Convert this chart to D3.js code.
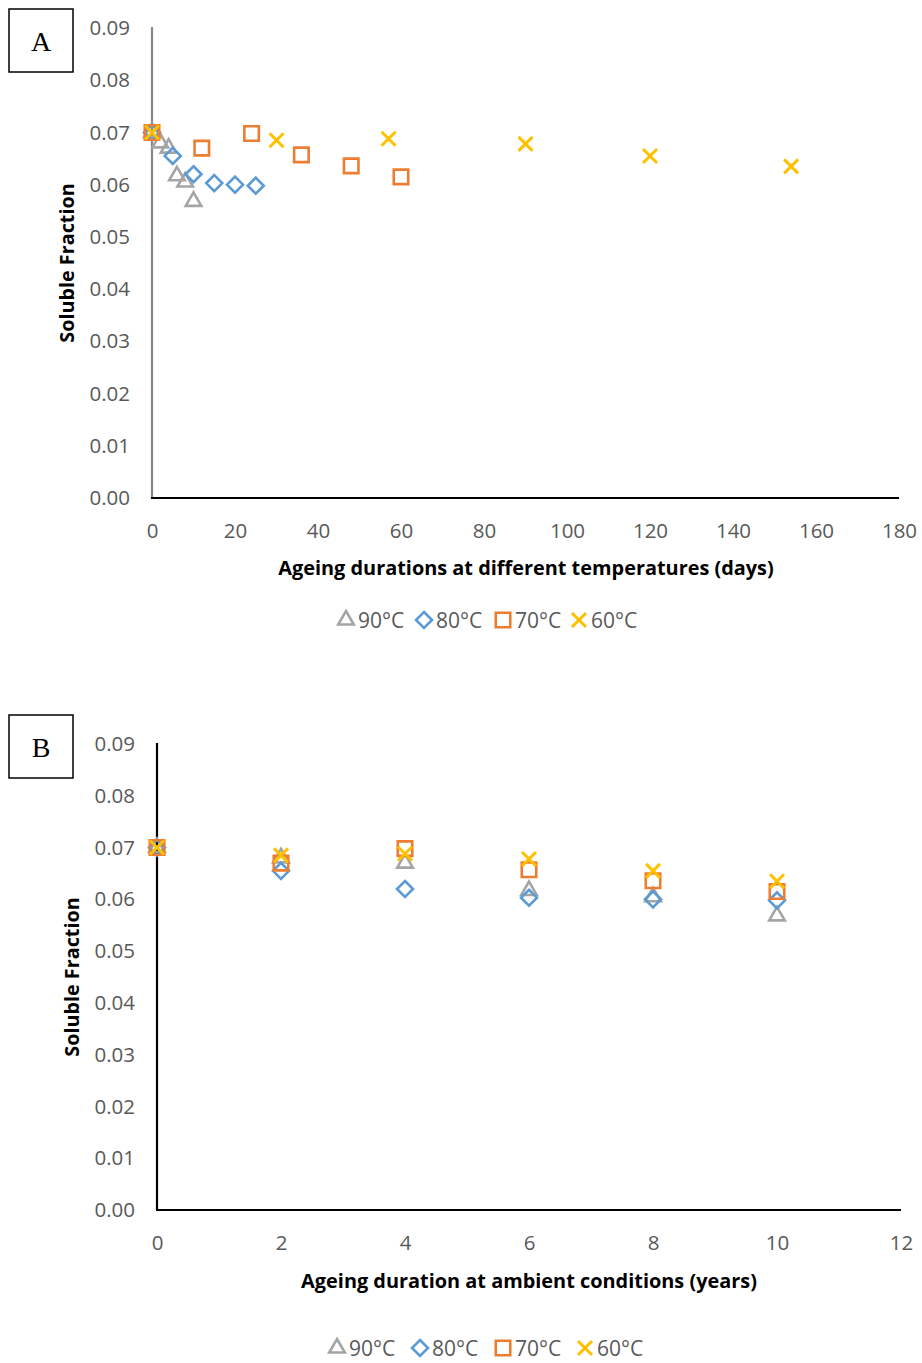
<!DOCTYPE html>
<html>
<head>
<meta charset="utf-8">
<script src="https://cdn.jsdelivr.net/npm/d3@7/dist/d3.min.js"></script>
<style>
  html, body { margin: 0; padding: 0; background: #fff; }
  svg { display: block; }
</style>
</head>
<body>
<svg id="chart" width="922" height="1363"></svg>
<script>
// Series: soluble fraction measured over six ageing steps at each temperature
const seriesNames = ["90°C", "80°C", "70°C", "60°C"];
const seriesColors = ["#A5A5A5", "#5B9BD5", "#ED7D31", "#FFC000"];
const seriesShapes = ["triangle", "diamond", "square", "cross"];

// Ageing durations (days) at each accelerated temperature
const days90 = [0, 2, 4, 6, 8, 10];
const days80 = [0, 5, 10, 15, 20, 25];
const days70 = [0, 12, 24, 36, 48, 60];
const days60 = [0, 30, 57, 90, 120, 154];

// Equivalent ageing durations at ambient conditions (years)
const years = [0, 2, 4, 6, 8, 10];

// Soluble fraction values
const frac90 = [0.0700, 0.0680, 0.0670, 0.0617, 0.0605, 0.0568];
const frac80 = [0.0700, 0.0655, 0.0620, 0.0603, 0.0600, 0.0598];
const frac70 = [0.0700, 0.0670, 0.0698, 0.0657, 0.0636, 0.0615];
const frac60 = [0.0700, 0.0685, 0.0688, 0.0678, 0.0655, 0.0635];

// Tick labels
const yTicks = [0, 0.01, 0.02, 0.03, 0.04, 0.05, 0.06, 0.07, 0.08, 0.09];
const xTicksDays = [0, 20, 40, 60, 80, 100, 120, 140, 160, 180];
const xTicksYears = [0, 2, 4, 6, 8, 10, 12];

const fracs = [frac90, frac80, frac70, frac60];

const svg = d3.select("#chart");
const tickFont = "'Open Sans', 'Liberation Sans', sans-serif";

function markerPath(shape) {
  if (shape === "triangle") return d3.symbol(d3.symbolTriangle, 105)();
  if (shape === "square") return d3.symbol(d3.symbolSquare, 210)();
  if (shape === "cross") return "M-7,-7L7,7M-7,7L7,-7";
  // diamond: a square turned by 45 degrees
  return "M0,-8L8,0L0,8L-8,0Z";
}

function drawMarker(g, shape, color, tx, ty) {
  g.append("path")
    .attr("d", markerPath(shape))
    .attr("transform", `translate(${tx},${ty})`)
    .attr("fill", "none")
    .attr("stroke", color)
    .attr("stroke-width", shape === "cross" ? 3 : 2.6)
    .attr("stroke-linejoin", "miter");
}

function drawPanel(cfg) {
  const g = svg.append("g");
  const x = d3.scaleLinear().domain(cfg.xDomain).range([cfg.left, cfg.right]);
  const y = d3.scaleLinear().domain([0, 0.09]).range([cfg.bottom, cfg.top]);

  // panel letter box
  g.append("rect")
    .attr("x", cfg.boxX).attr("y", cfg.boxY)
    .attr("width", 64).attr("height", 63)
    .attr("fill", "#fff").attr("stroke", "#000").attr("stroke-width", 1.5);
  g.append("text")
    .attr("x", cfg.boxX + 32).attr("y", cfg.boxY + 32)
    .attr("text-anchor", "middle").attr("dominant-baseline", "central")
    .attr("font-family", "'Liberation Serif', 'DejaVu Serif', serif")
    .attr("font-size", 28).attr("fill", "#000")
    .text(cfg.letter);

  // y axis ticks
  const yAxis = d3.axisLeft(y).tickValues(yTicks).tickFormat(d3.format(".2f")).tickSize(0).tickPadding(0);
  const ya = g.append("g").attr("transform", `translate(${cfg.yLabelRight},0)`).call(yAxis);
  ya.select(".domain").remove();
  ya.selectAll("text").attr("font-family", tickFont).attr("font-size", 20.5).attr("fill", "#595959");

  // x axis ticks
  const xAxis = d3.axisBottom(x).tickValues(cfg.xTicks).tickFormat(d3.format("d")).tickSize(0).tickPadding(0);
  const xa = g.append("g").attr("transform", `translate(0,${cfg.xLabelY})`).call(xAxis);
  xa.select(".domain").remove();
  xa.selectAll("text").attr("font-family", tickFont).attr("font-size", 20.5).attr("fill", "#595959");

  // axis lines
  g.append("line")
    .attr("x1", x(cfg.xDomain[0])).attr("x2", x(cfg.xDomain[0]))
    .attr("y1", y(0.09) - 1).attr("y2", y(0))
    .attr("stroke", cfg.yAxisColor).attr("stroke-width", 2.2);
  g.append("line")
    .attr("x1", x(cfg.xDomain[0]) - 1).attr("x2", x(cfg.xDomain[1]))
    .attr("y1", y(0)).attr("y2", y(0))
    .attr("stroke", "#000").attr("stroke-width", 2.2);

  // axis titles
  g.append("text")
    .attr("x", cfg.xTitleX).attr("y", cfg.xTitleY)
    .attr("text-anchor", "middle").attr("dominant-baseline", "central")
    .attr("font-family", tickFont).attr("font-weight", "bold")
    .attr("font-size", 19.9).attr("fill", "#000")
    .text(cfg.xTitle);
  g.append("text")
    .attr("transform", `translate(${cfg.yTitleX},${cfg.yTitleY}) rotate(-90)`)
    .attr("text-anchor", "middle").attr("dominant-baseline", "central")
    .attr("font-family", tickFont).attr("font-weight", "bold")
    .attr("font-size", 19.8).attr("fill", "#000")
    .text("Soluble Fraction");

  // data markers
  const marks = g.append("g");
  fracs.forEach((vals, s) => {
    const xs = cfg.xValues[s];
    vals.forEach((v, i) => {
      drawMarker(marks, seriesShapes[s], seriesColors[s], x(xs[i]), y(v));
    });
  });

  // legend
  const leg = g.append("g");
  cfg.legendX.forEach((lx, s) => {
    drawMarker(leg, seriesShapes[s], seriesColors[s], lx, cfg.legendY);
    leg.append("text")
      .attr("x", lx + 12).attr("y", cfg.legendY)
      .attr("dominant-baseline", "central")
      .attr("font-family", tickFont).attr("font-size", 21).attr("fill", "#595959")
      .text(seriesNames[s]);
  });
}

drawPanel({
  letter: "A", boxX: 9, boxY: 9,
  xDomain: [0, 180], xTicks: xTicksDays,
  left: 152, right: 899, top: 28, bottom: 498,
  yLabelRight: 130, xLabelY: 523,
  yAxisColor: "#868686",
  xTitle: "Ageing durations at different temperatures (days)",
  xTitleX: 526, xTitleY: 567, yTitleX: 66, yTitleY: 263,
  xValues: [days90, days80, days70, days60],
  legendX: [346, 424, 503, 579], legendY: 620
});

drawPanel({
  letter: "B", boxX: 9, boxY: 715,
  xDomain: [0, 12], xTicks: xTicksYears,
  left: 157, right: 901, top: 744, bottom: 1210,
  yLabelRight: 135, xLabelY: 1235,
  yAxisColor: "#000",
  xTitle: "Ageing duration at ambient conditions (years)",
  xTitleX: 529, xTitleY: 1280, yTitleX: 71, yTitleY: 977,
  xValues: [years, years, years, years],
  legendX: [337, 420, 503, 585], legendY: 1348
});
</script>
</body>
</html>
